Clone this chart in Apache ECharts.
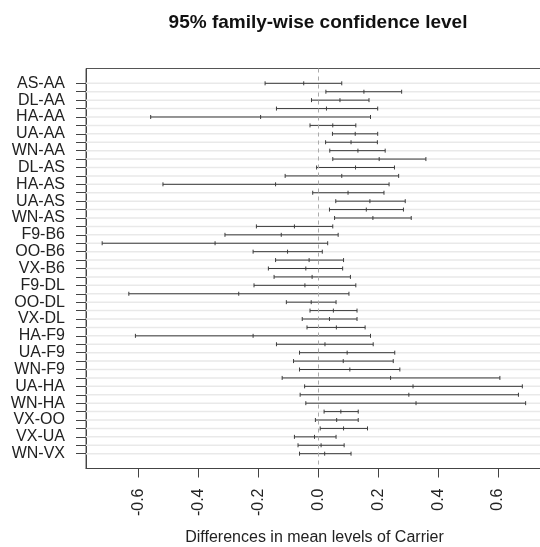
<!DOCTYPE html>
<html>
<head>
<meta charset="utf-8">
<script src="https://cdn.jsdelivr.net/npm/echarts@6/dist/echarts.min.js"></script>
<style>html,body{margin:0;padding:0;background:#fff;}#chart{width:540px;height:547px;}</style>
</head>
<body>
<div id="chart"></div>
<script>
const comparisons = ["AS-AA","B6-AA","DL-AA","F9-AA","HA-AA","OO-AA","UA-AA","VX-AA","WN-AA",
  "B6-AS","DL-AS","F9-AS","HA-AS","OO-AS","UA-AS","VX-AS","WN-AS",
  "DL-B6","F9-B6","HA-B6","OO-B6","UA-B6","VX-B6","WN-B6",
  "F9-DL","HA-DL","OO-DL","UA-DL","VX-DL","WN-DL",
  "HA-F9","OO-F9","UA-F9","VX-F9","WN-F9",
  "OO-HA","UA-HA","VX-HA","WN-HA",
  "UA-OO","VX-OO","WN-OO",
  "VX-UA","WN-UA",
  "WN-VX"];
const lower = [-0.178, 0.025, -0.023, -0.140, -0.560, -0.028, 0.047, 0.024, 0.038,
  0.048, -0.006, -0.111, -0.519, -0.019, 0.058, 0.037, 0.054,
  -0.207, -0.312, -0.722, -0.218, -0.143, -0.167, -0.148,
  -0.215, -0.633, -0.107, -0.028, -0.054, -0.038,
  -0.611, -0.140, -0.063, -0.083, -0.063,
  -0.121, -0.046, -0.061, -0.042,
  0.019, -0.010, 0.006,
  -0.080, -0.068,
  -0.063];
const diff = [-0.049, 0.152, 0.072, 0.027, -0.193, 0.048, 0.123, 0.109, 0.132,
  0.203, 0.124, 0.078, -0.143, 0.099, 0.172, 0.160, 0.182,
  -0.080, -0.124, -0.345, -0.103, -0.031, -0.042, -0.021,
  -0.045, -0.266, -0.024, 0.050, 0.037, 0.060,
  -0.218, 0.022, 0.096, 0.083, 0.105,
  0.241, 0.316, 0.302, 0.326,
  0.075, 0.061, 0.084,
  -0.013, 0.009,
  0.021];
const upper = [0.078, 0.278, 0.169, 0.198, 0.174, 0.125, 0.198, 0.197, 0.223,
  0.359, 0.254, 0.268, 0.236, 0.219, 0.290, 0.284, 0.310,
  0.048, 0.066, 0.031, 0.013, 0.084, 0.081, 0.107,
  0.125, 0.102, 0.059, 0.129, 0.129, 0.156,
  0.174, 0.183, 0.255, 0.250, 0.272,
  0.606, 0.681, 0.668, 0.692,
  0.133, 0.133, 0.164,
  0.059, 0.086,
  0.109];
const xTicks = [-0.6, -0.4, -0.2, 0.0, 0.2, 0.4, 0.6];
const titleText = "95% family-wise confidence level";
const xTitle = "Differences in mean levels of Carrier";

const rowIdx = comparisons.map((_, i) => i);
const labelIdx = rowIdx.filter(i => i % 2 === 0);
const seriesData = comparisons.map((c, i) => [lower[i], diff[i], upper[i], i]);

const FONT = "'Liberation Sans', Arial, Helvetica, sans-serif";

function renderItem(params, api) {
  const i = api.value(3);
  const lo = api.coord([api.value(0), i]);
  const md = api.coord([api.value(1), i]);
  const hi = api.coord([api.value(2), i]);
  const cs = params.coordSys;
  const y = lo[1];
  const t = 2;
  const stroke = '#3c3c3c';
  return {
    type: 'group',
    children: [
      {type: 'line', z2: 0, shape: {x1: cs.x, y1: y, x2: cs.x + cs.width, y2: y}, style: {stroke: '#e9e9e9', lineWidth: 1.5}},
      {type: 'line', z2: 5, shape: {x1: lo[0], y1: y, x2: hi[0], y2: y}, style: {stroke: stroke, lineWidth: 1}},
      {type: 'line', z2: 5, shape: {x1: lo[0], y1: y - t, x2: lo[0], y2: y + t}, style: {stroke: stroke, lineWidth: 1}},
      {type: 'line', z2: 5, shape: {x1: md[0], y1: y - t, x2: md[0], y2: y + t}, style: {stroke: stroke, lineWidth: 1}},
      {type: 'line', z2: 5, shape: {x1: hi[0], y1: y - t, x2: hi[0], y2: y + t}, style: {stroke: stroke, lineWidth: 1}}
    ]
  };
}

const chart = echarts.init(document.getElementById('chart'), null, {renderer: 'canvas'});
chart.setOption({
  animation: false,
  backgroundColor: '#ffffff',
  textStyle: {fontFamily: FONT},
  title: {
    text: titleText,
    left: 313,
    top: 8,
    textAlign: 'center',
    textStyle: {fontFamily: FONT, fontSize: 19, fontWeight: 'bold', color: '#111'}
  },
  grid: {
    left: 86, top: 68.5, width: 457, height: 400,
    containLabel: false,
    outerBoundsMode: 'none',
    show: true, borderColor: '#555', borderWidth: 1
  },
  xAxis: {
    type: 'value',
    min: -0.776, max: 0.75,
    name: xTitle,
    nameLocation: 'middle',
    nameGap: 61,
    nameTextStyle: {fontFamily: FONT, fontSize: 16, color: '#222'},
    axisLine: {show: true, onZero: false, lineStyle: {color: '#444', width: 1}},
    axisTick: {show: true, length: 9, customValues: xTicks, lineStyle: {color: '#444'}},
    axisLabel: {show: true, rotate: 90, margin: 20, customValues: xTicks,
      fontFamily: FONT, fontSize: 16, color: '#222',
      formatter: v => Number(v).toFixed(1)},
    splitLine: {show: false}
  },
  yAxis: {
    type: 'value',
    inverse: true,
    min: -1.76, max: 45.76,
    axisLine: {show: true, onZero: false, lineStyle: {color: '#444', width: 1}},
    axisTick: {show: true, length: 10, customValues: rowIdx, lineStyle: {color: '#444'}},
    axisLabel: {show: true, margin: 21, customValues: labelIdx,
      fontFamily: FONT, fontSize: 16, color: '#222',
      formatter: v => comparisons[Math.round(v)]},
    splitLine: {show: false}
  },
  series: [{
    type: 'custom',
    renderItem: renderItem,
    encode: {x: [0, 1, 2], y: 3},
    data: seriesData,
    clip: false,
    markLine: {
      silent: true,
      symbol: 'none',
      label: {show: false},
      lineStyle: {color: '#aaaaaa', type: [4, 4], width: 1},
      data: [{xAxis: 0}]
    }
  }]
});
</script>
</body>
</html>
